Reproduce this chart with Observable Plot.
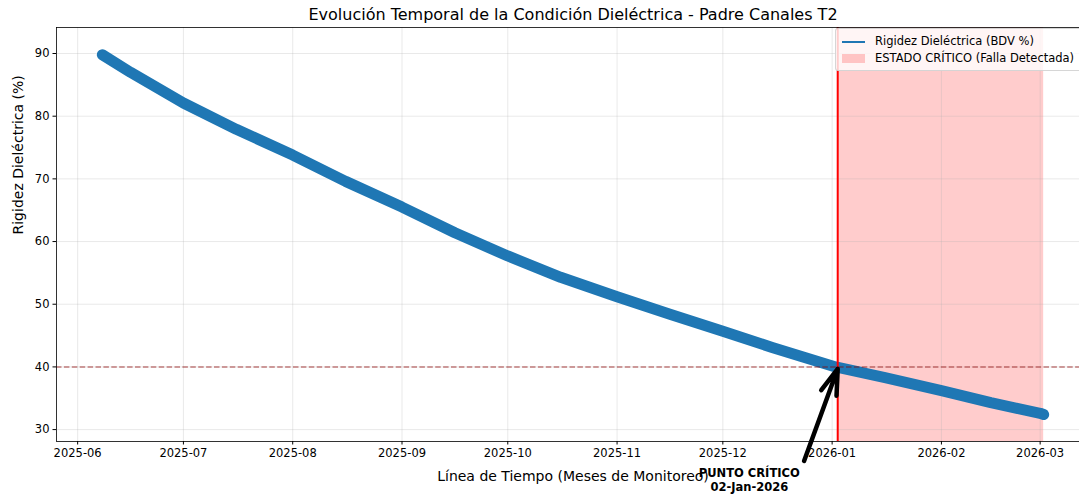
<!DOCTYPE html>
<html>
<head>
<meta charset="utf-8">
<script src="https://cdn.jsdelivr.net/npm/d3@7"></script>
<script src="https://cdn.jsdelivr.net/npm/@observablehq/plot@0.6"></script>
<style>
  html, body { margin: 0; padding: 0; background: #fff; overflow: hidden; }
  #wrap { position: relative; width: 1079px; height: 494px; overflow: hidden; font-family: "DejaVu Sans", sans-serif; }
  #wrap svg { max-width: none !important; width: 1100px !important; height: 494px !important; }
  #legend { position: absolute; left: 835px; top: 28px; width: 252px; height: 43px;
            background: rgba(255,255,255,0.8); border: 1px solid rgba(204,204,204,0.8);
            border-radius: 3px; font-size: 11.5px; color: #000; box-sizing: border-box; }
  .sw-line { position: absolute; left: 6px; top: 12px; width: 23px; height: 0; border-top: 2px solid #1f77b4; }
  .sw-patch { position: absolute; left: 6px; top: 25px; width: 23px; height: 9px; background: rgba(255,0,0,0.2); }
  .lab { position: absolute; left: 39px; white-space: nowrap; line-height: 14px; }
</style>
</head>
<body>
<div id="wrap"></div>
<script>
// ---- data ----
const dates = ["2025-06-08","2025-06-16","2025-07-01","2025-07-16","2025-08-01","2025-08-16",
               "2025-09-01","2025-09-16","2025-10-01","2025-10-16","2025-11-01","2025-11-16",
               "2025-12-01","2025-12-15","2026-01-02","2026-01-16","2026-02-01","2026-02-15",
               "2026-03-01","2026-03-02"];
const bdvValues = [89.8, 87.0, 82.1, 77.9, 73.8, 69.6,
                   65.5, 61.4, 57.7, 54.3, 51.2, 48.4,
                   45.7, 43.1, 40.0, 38.3, 36.2, 34.3,
                   32.6, 32.4];
const xTickLabels = ["2025-06","2025-07","2025-08","2025-09","2025-10","2025-11","2025-12","2026-01","2026-02","2026-03"];
const yTickValues = [30, 40, 50, 60, 70, 80, 90];
const xDomain = ["2025-05-26", "2026-03-15"];
const yDomain = [28.1, 94.15];
const threshold = [40];
const criticalDate = ["2026-01-02T14:00"];
const criticalSpanStart = ["2026-01-02T14:00"];
const criticalSpanEnd = ["2026-03-02"];
const arrowTail = {date: "2025-12-24T01:00", value: 25.0};
const arrowHead = {date: "2026-01-02T14:00", value: 39.7};
const annotationPos = {date: "2025-12-08T12:00", value: 22.0};
const annotationText = ["PUNTO CRÍTICO\n02-Jan-2026"];
const titleText = ["Evolución Temporal de la Condición Dieléctrica - Padre Canales T2"];
const xLabelText = ["Línea de Tiempo (Meses de Monitoreo)"];
const yLabelText = ["Rigidez Dieléctrica (%)"];
const legendLabels = ["Rigidez Dieléctrica (BDV %)", "ESTADO CRÍTICO (Falla Detectada)"];

// ---- build tables ----
const U = s => new Date(s.length === 7 ? s + "-01T00:00Z" : (s.length === 10 ? s + "T00:00Z" : s + "Z"));
const series = dates.map((d, i) => ({date: U(d), value: bdvValues[i]}));
const xTicks = xTickLabels.map(U);
const span = criticalSpanStart.map((s, i) => ({start: U(s), end: U(criticalSpanEnd[i])}));
const arrows = [{x1: U(arrowTail.date), y1: arrowTail.value, x2: U(arrowHead.date), y2: arrowHead.value}];
const ann = annotationText.map(t => ({date: U(annotationPos.date), value: annotationPos.value, text: t}));

const chart = Plot.plot({
  width: 1100, height: 494,
  marginLeft: 56, marginRight: 11, marginTop: 27, marginBottom: 53,
  style: {fontFamily: "DejaVu Sans", fontSize: "11.5px", color: "#000", background: "transparent", overflow: "visible", maxWidth: "none"},
  x: {type: "utc", domain: xDomain.map(U)},
  y: {domain: yDomain},
  marks: [
    Plot.rect(span, {x1: "start", x2: "end", fill: "red", fillOpacity: 0.2}),
    Plot.gridX(xTicks, {stroke: "#b0b0b0", strokeOpacity: 0.35, strokeWidth: 0.8}),
    Plot.gridY(yTickValues, {stroke: "#b0b0b0", strokeOpacity: 0.35, strokeWidth: 0.8}),
    Plot.line(series, {x: "date", y: "value", stroke: "#1f77b4", strokeWidth: 11, strokeLinejoin: "round"}),
    Plot.ruleY(threshold, {stroke: "#8b0000", strokeOpacity: 0.5, strokeWidth: 1.5, strokeDasharray: "5.5,2.4"}),
    Plot.ruleX(criticalDate.map(U), {stroke: "red", strokeWidth: 2}),
    Plot.frame({stroke: "#000", strokeWidth: 0.8}),
    Plot.axisX(xTicks, {tickFormat: "%Y-%m", tickSize: 3.5, tickPadding: 3.5, label: null, fontSize: 11.5}),
    Plot.axisY(yTickValues, {tickSize: 3.5, tickPadding: 3.5, label: null, fontSize: 11.5}),
    Plot.text(xLabelText, {frameAnchor: "bottom", dy: 35, fontSize: 14, lineAnchor: "middle"}),
    Plot.text(ann, {x: "date", y: "value", text: "text", fontWeight: "bold", fontSize: 11.5, lineHeight: 1.2, lineAnchor: "middle"}),
    Plot.arrow(arrows, {x1: "x1", y1: "y1", x2: "x2", y2: "y2", stroke: "black", strokeWidth: 4.5, headLength: 9, headAngle: 35}),
    Plot.text(titleText, {frameAnchor: "top", dy: -13, fontSize: 16, lineAnchor: "middle"}),
    Plot.text(yLabelText, {frameAnchor: "left", dx: -38, rotate: -90, fontSize: 14})
  ]
});

const wrap = document.getElementById("wrap");
wrap.appendChild(chart);

const legend = document.createElement("div");
legend.id = "legend";
legend.innerHTML =
  `<div class="sw-line"></div><div class="lab" style="top:5px">${legendLabels[0]}</div>` +
  `<div class="sw-patch"></div><div class="lab" style="top:22px">${legendLabels[1]}</div>`;
wrap.appendChild(legend);
</script>
</body>
</html>
